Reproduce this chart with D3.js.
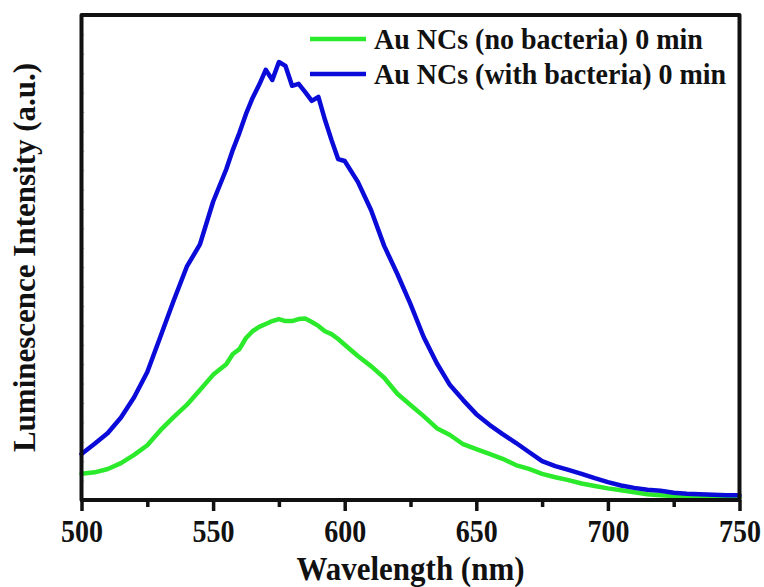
<!DOCTYPE html>
<html>
<head>
<meta charset="utf-8">
<script src="https://cdn.jsdelivr.net/npm/d3@7"></script>
<style>
  html, body { margin: 0; padding: 0; background: #fff; }
  svg { display: block; }
  text { font-family: "Liberation Serif", "Times New Roman", serif; font-weight: bold; fill: #111; }
</style>
</head>
<body>
<svg id="chart" width="764" height="587"></svg>
<script>
// Emission spectra, wavelength in nm, intensity in arbitrary units
const wavelength = [500,505,510,515,520,525,530,535,540,545,550,555,557.5,560,562.5,565,567.5,570,572.5,575,577.5,580,582.5,585,587.5,590,592.5,595,597.5,600,605,610,615,620,625,630,635,640,645,650,655,660,665,670,675,680,685,690,695,700,705,710,715,720,725,730,735,740,745,750];
const withBacteria = [95,116,138,170,212,264,337,411,481,527,615,682,722,757,796,829,856,887,866,903,895,854,858,841,823,831,784,742,703,699,656,598,524,466,404,336,282,237,206,177,155,136,118,99,80,70,62,54,45,37,30,25,21,19,15,13,12,11,10,10];
const noBacteria = [54,57,64,76,93,113,144,171,196,227,258,280,301,311,334,348,357,363,369,373,369,369,373,374,367,359,348,342,332,320,297,276,252,219,196,173,148,134,115,105,95,85,72,64,54,47,41,34,29,24,20,16,12,10,8,7,6,5,5,5];

const seriesNames = ["Au NCs (no bacteria) 0 min", "Au NCs (with bacteria) 0 min"];
const seriesColors = ["#2bea2b", "#0b0bd9"];
const xTicks = [500, 550, 600, 650, 700, 750];
const xMinorTicks = [525, 575, 625, 675, 725];
const xTitle = "Wavelength (nm)";
const yTitle = "Luminescence Intensity (a.u.)";

const svg = d3.select("#chart");
const plotLeft = 81.5, plotRight = 739.5, plotTop = 15, plotBottom = 500;

const x = d3.scaleLinear().domain([500, 750]).range([plotLeft, plotRight]);
const y = d3.scaleLinear().domain([0, 1000]).range([plotBottom, plotTop]);

// faint inner ticks along the intensity axis
svg.append("g")
  .attr("transform", `translate(${plotLeft},0)`)
  .call(d3.axisRight(y).tickValues(d3.range(40, 1000, 40)).tickSize(3).tickFormat(""))
  .call(g => g.select(".domain").remove())
  .call(g => g.selectAll("line").attr("stroke", "#c8c8c8").attr("stroke-width", 1));

// spectra
const series = [noBacteria, withBacteria];
const line = d3.line().x((d, i) => x(wavelength[i])).y(d => y(d));
series.forEach((vals, k) => {
  svg.append("path")
    .datum(vals)
    .attr("d", line)
    .attr("fill", "none")
    .attr("stroke", seriesColors[k])
    .attr("stroke-width", 4.5)
    .attr("stroke-linejoin", "round")
    .attr("stroke-linecap", "round");
});

// bottom axis with major and minor ticks
const xAxis = svg.append("g").attr("transform", `translate(0,${plotBottom})`);
xAxis.call(d3.axisBottom(x).tickValues(xTicks).tickSize(11).tickFormat(d3.format("d")));
xAxis.select(".domain").remove();
xAxis.selectAll(".tick line").attr("stroke", "#111").attr("stroke-width", 3.5);
xAxis.selectAll(".tick text")
  .attr("y", 42 / 1.15).attr("dy", null)
  .attr("transform", "scale(1,1.15)")
  .style("font-size", "28px")
  .style("font-family", "'Liberation Serif', serif")
  .style("font-weight", "bold")
  .attr("fill", "#111");
svg.append("g").attr("transform", `translate(0,${plotBottom})`)
  .call(d3.axisBottom(x).tickValues(xMinorTicks).tickSize(7).tickFormat(""))
  .call(g => g.select(".domain").remove())
  .call(g => g.selectAll("line").attr("stroke", "#111").attr("stroke-width", 3.5));

// frame
svg.append("path")
  .attr("d", `M${plotLeft},${plotBottom}V${plotTop}H${plotRight}V${plotBottom}Z`)
  .attr("fill", "none")
  .attr("stroke", "#111")
  .attr("stroke-width", 4)
  .attr("stroke-linejoin", "round");

// legend
const legend = svg.append("g");
seriesNames.forEach((name, k) => {
  const ly = 39 + k * 35;
  legend.append("line")
    .attr("x1", 310).attr("x2", 366).attr("y1", ly).attr("y2", ly)
    .attr("stroke", seriesColors[k]).attr("stroke-width", 4.5);
  legend.append("text")
    .attr("transform", `translate(374,${ly + 10}) scale(1,1.08)`)
    .style("font-size", "28px")
    .text(name);
});

// axis titles
svg.append("text")
  .attr("transform", `translate(${(plotLeft + plotRight) / 2},580) scale(1,1.07)`)
  .attr("text-anchor", "middle")
  .style("font-size", "31px")
  .text(xTitle);
svg.append("text")
  .attr("transform", `translate(35,${(plotTop + plotBottom) / 2}) rotate(-90)`)
  .attr("text-anchor", "middle")
  .style("font-size", "31px")
  .text(yTitle);
</script>
</body>
</html>
